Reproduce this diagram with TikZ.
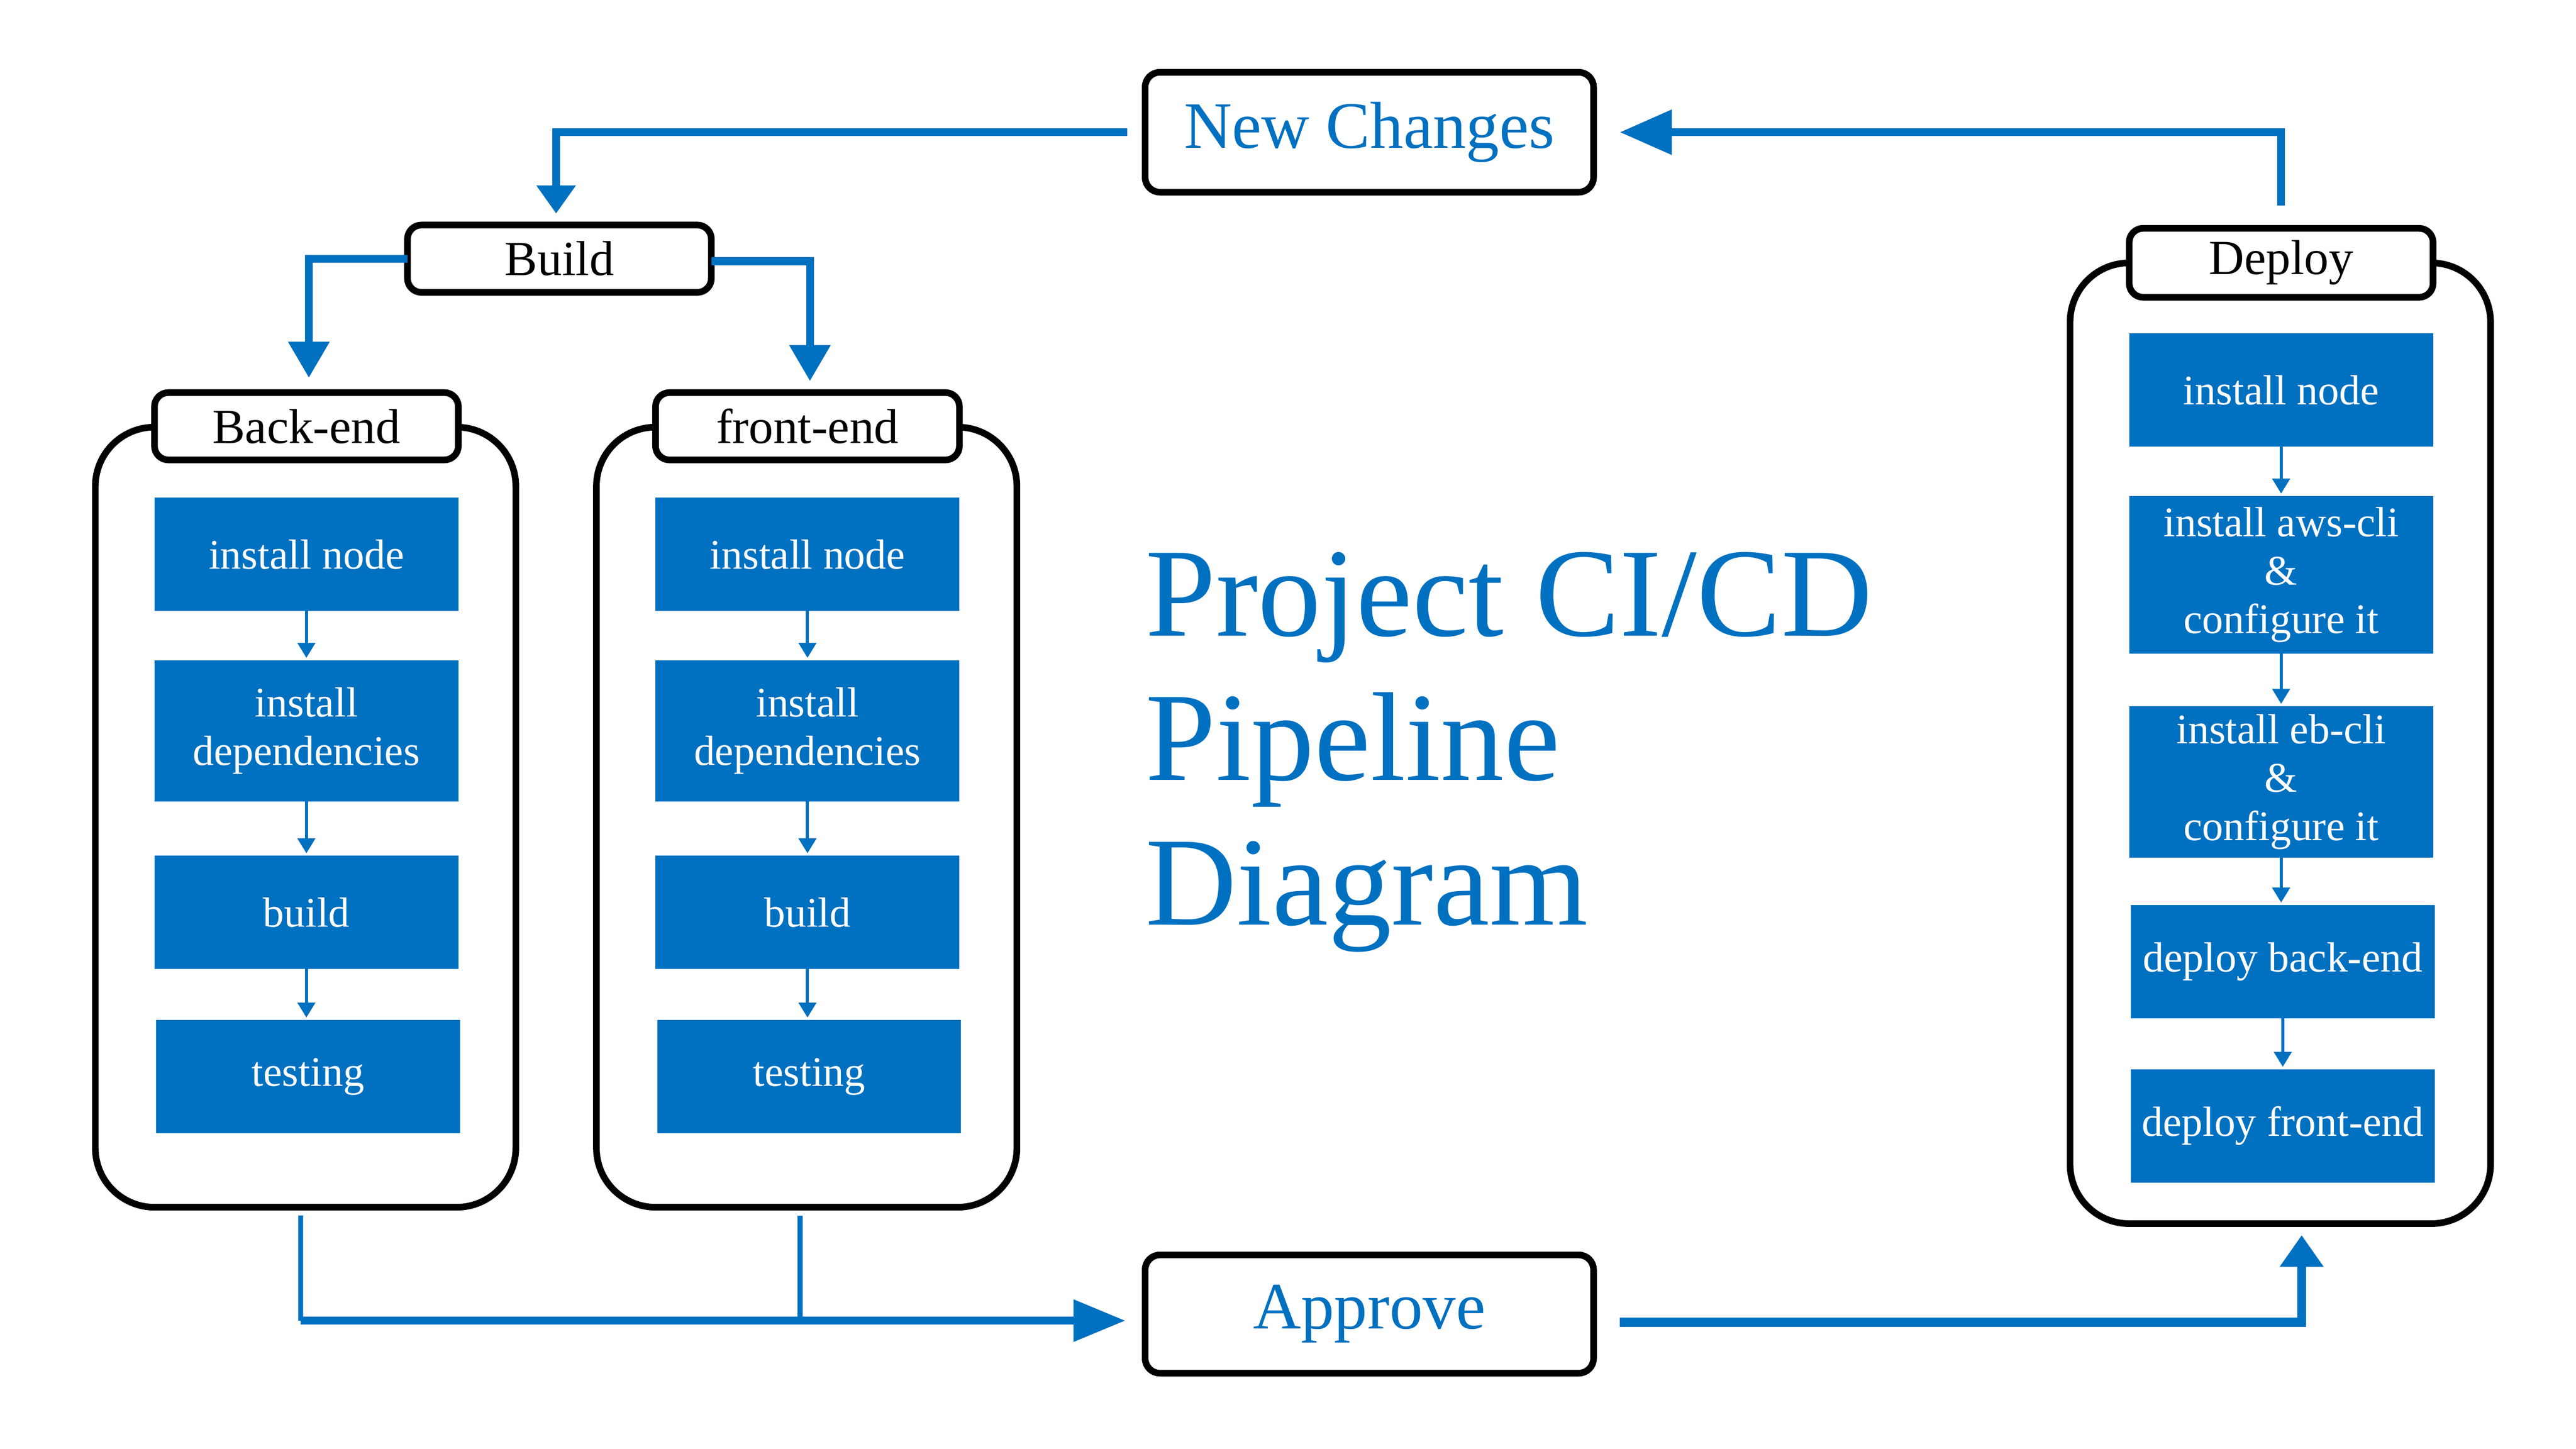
\documentclass[tikz,border=0pt]{standalone}
\usepackage{fontspec}
\setmainfont{Liberation Serif}
\usetikzlibrary{arrows.meta}
\definecolor{cblue}{HTML}{0070C0}
\tikzset{
  lbl/.style={draw=black, line width=2.3pt, fill=white, rounded corners=0.17cm, inner sep=0pt, outer sep=0pt, font=\fontsize{17}{20}\selectfont},
  bigbox/.style={draw=black, line width=2.3pt, fill=white, rounded corners=0.18cm, inner sep=0pt, outer sep=0pt, minimum width=5.46cm, text=cblue, font=\fontsize{23}{28}\selectfont},
  container/.style={draw=black, line width=2.3pt, rounded corners=0.72cm, inner sep=0pt, outer sep=0pt, minimum width=5.12cm},
  bluebox/.style={fill=cblue, text=white, inner sep=0pt, outer sep=0pt, minimum width=3.7cm, align=center, font=\fontsize{14.6}{16.8}\selectfont},
  conn/.style={draw=cblue, line width=2.7pt},
  thinconn/.style={draw=cblue, line width=1.7pt},
  smallarrow/.style={draw=cblue, line width=1.1pt, -{Triangle[length=5.2pt,width=6pt]}},
  titletext/.style={text=cblue, inner sep=0pt, font=\fontsize{43.8}{50}\selectfont},
}
\begin{document}
\begin{tikzpicture}[x=0.02cm, y=-0.02cm]
\useasboundingbox (0,0) rectangle (1568,882);
\fill[white] (0,0) rectangle (1568,882);

% containers
\node[container, minimum height=9.5cm] (bec) at (186,497.5) {};
\node[container, minimum height=9.5cm] (fec) at (491,497.5) {};
\node[container, minimum height=11.7cm] (dec) at (1388,452.5) {};

% labels
\node[lbl, minimum width=3.7cm, minimum height=0.82cm] (build) at (340.5,157.5) {Build};
\node[lbl, minimum width=3.7cm, minimum height=0.82cm] (bel) at (186.5,259.5) {Back-end};
\node[lbl, minimum width=3.7cm, minimum height=0.82cm] (fel) at (491.5,259.5) {front-end};
\node[lbl, minimum width=3.7cm, minimum height=0.84cm] (dep) at (1388.5,160) {Deploy};
\node[bigbox, minimum height=1.46cm] (nc) at (833.5,80.5) {New Changes};
\node[bigbox, minimum height=1.44cm] (ap) at (833.5,800) {Approve};

% back-end steps
\node[bluebox, minimum height=1.38cm] (b1) at (186.5,337.5) {install node};
\node[bluebox, minimum height=1.72cm] (b2) at (186.5,445) {install\\dependencies};
\node[bluebox, minimum height=1.38cm] (b3) at (186.5,555.5) {build};
\node[bluebox, minimum height=1.38cm] (b4) at (187.5,655.5) {testing};
% front-end steps
\node[bluebox, minimum height=1.38cm] (f1) at (491.5,337.5) {install node};
\node[bluebox, minimum height=1.72cm] (f2) at (491.5,445) {install\\dependencies};
\node[bluebox, minimum height=1.38cm] (f3) at (491.5,555.5) {build};
\node[bluebox, minimum height=1.38cm] (f4) at (492.5,655.5) {testing};
% deploy steps
\node[bluebox, minimum height=1.38cm] (d1) at (1388.5,237.5) {install node};
\node[bluebox, minimum height=1.92cm] (d2) at (1388.5,350) {install aws-cli\\\&\\configure it};
\node[bluebox, minimum height=1.84cm] (d3) at (1388.5,476) {install eb-cli\\\&\\configure it};
\node[bluebox, minimum height=1.38cm] (d4) at (1389.5,585.5) {deploy back-end};
\node[bluebox, minimum height=1.38cm] (d5) at (1389.5,685.5) {deploy front-end};

% title
\node[titletext, anchor=base west] (t1) at (697,387) {Project CI/CD};
\node[titletext, anchor=base west] (t2) at (697,475) {Pipeline};
\node[titletext, anchor=base west] (t3) at (697,563) {Diagram};

% small arrows
\foreach \a/\b in {b1/b2,b2/b3,b3/b4,f1/f2,f2/f3,f3/f4,d1/d2,d2/d3,d3/d4,d4/d5}{
  \draw[smallarrow, shorten >=0.03cm] (\a.south) -- (\a.south |- \b.north);
}

% New Changes -> Build
\draw[conn, -{Triangle[length=9.7pt,width=13pt]}, shorten <=0.22cm, shorten >=0.14cm] (nc.west) -| ([xshift=-0.04cm]build.north);
% Build -> Back-end / front-end
\draw[conn, -{Triangle[length=12.5pt,width=13.7pt]}, shorten >=0.18cm] (build.west) -| ([xshift=0.03cm]bel.north);
\draw[conn, -{Triangle[length=12.5pt,width=13.7pt]}, shorten >=0.14cm] ([yshift=-0.03cm]build.east) -| ([xshift=0.03cm]fel.north);
% Deploy -> New Changes
\draw[conn, -{Triangle[length=18pt,width=15pt]}, shorten <=0.28cm, shorten >=0.32cm] (dep.north) |- (nc.east);
% Containers -> Approve
\coordinate (ja) at (183,804);
\draw[thinconn] ([xshift=-0.06cm, yshift=-0.1cm]bec.south) -- (ja);
\draw[thinconn] ([xshift=-0.08cm, yshift=-0.1cm]fec.south) -- ([xshift=-0.08cm]fec.south |- ja);
\draw[conn, -{Triangle[length=18pt,width=14pt]}, shorten >=0.24cm] (ja) -- ([yshift=-0.08cm]ap.west);
% Approve -> Deploy
\draw[conn, line width=3.1pt, -{Triangle[length=11pt,width=14.5pt]}, shorten <=0.32cm, shorten >=0.14cm] ([yshift=-0.1cm]ap.east) -| ([xshift=0.26cm]dec.south);
\end{tikzpicture}
\end{document}
